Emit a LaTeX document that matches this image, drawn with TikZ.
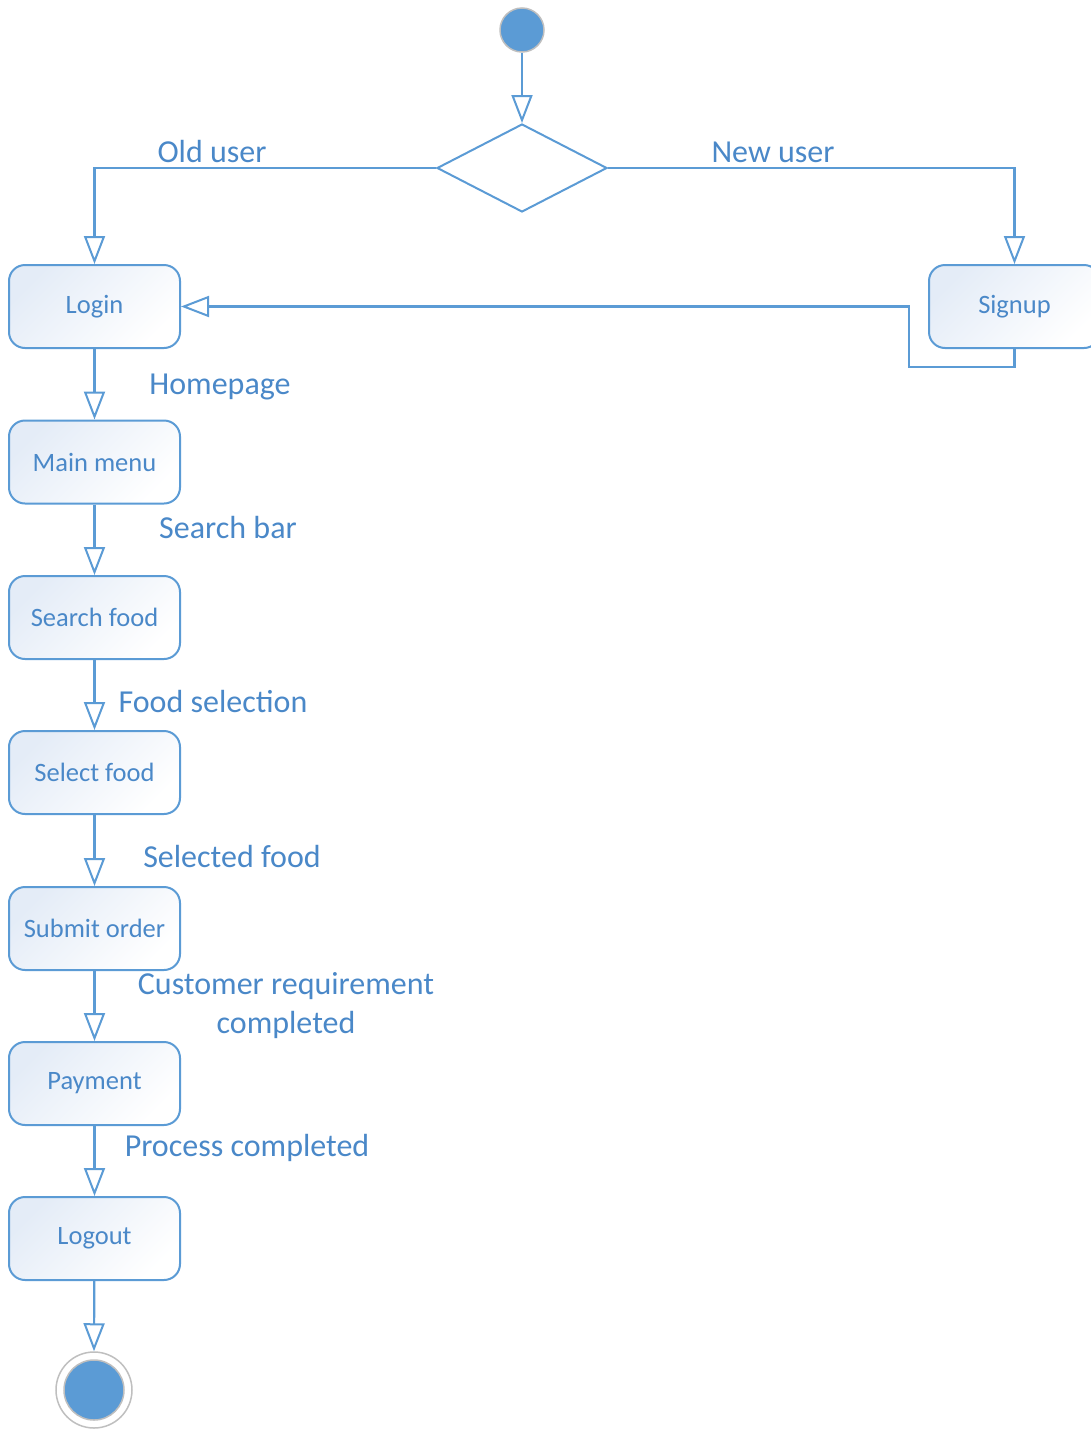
\documentclass[tikz,border=0pt]{standalone}
\usepackage{fontspec}
\setmainfont{Carlito}
\usetikzlibrary{arrows.meta,shapes.geometric,calc}
\definecolor{uline}{HTML}{5B9BD5}
\definecolor{utext}{HTML}{4A88C8}
\definecolor{ufill}{HTML}{E4ECF7}
\definecolor{uring}{HTML}{BFBFBF}
\begin{document}
\begin{tikzpicture}[x=1pt,y=-1pt,
  every node/.style={inner sep=0pt},
  flow/.style={draw=uline, line width=2.2pt,
    -{Triangle[length=28pt,width=21pt,fill=white,line width=2pt]}},
  activity/.style={draw=uline, line width=2pt, rounded corners=16pt,
    minimum width=171pt, minimum height=83pt,
    top color=ufill, bottom color=white, shading angle=45,
    text=utext, font=\fontsize{26.5}{30}\selectfont},
  elabel/.style={text=utext, font=\fontsize{32}{39}\selectfont, align=center},
  decision/.style={diamond, draw=uline, line width=2pt, fill=white,
    minimum width=170pt, minimum height=88pt, aspect=1.93}
]
\useasboundingbox (0,0) rectangle (1091,1430);

% start node
\node[circle, fill=uline, draw=uring, line width=1.5pt, minimum size=44pt] (start) at (522,30) {};
\node[decision] (dec) at (522,168) {};

% activities
\node[activity] (login)  at (94.5,306.5) {Login};
\node[activity] (signup) at (1014.5,306.5) {Signup};
\node[activity] (menu)   at (94.5,462) {Main menu};
\node[activity] (search) at (94.5,617.5) {Search food};
\node[activity] (select) at (94.5,772.5) {Select food};
\node[activity] (submit) at (94.5,928.5) {Submit order};
\node[activity] (pay)    at (94.5,1083.5) {Payment};
\node[activity] (logout) at (94.5,1238.5) {Logout};

% final node
\node[circle, draw=uring, line width=1.5pt, fill=white, minimum size=76pt] (endring) at (94,1390) {};
\node[circle, fill=uline, draw=uring, line width=1.5pt, minimum size=60pt] (end) at (94,1390) {};

% connectors
\draw[flow] (start) -- (dec.north);
\draw[flow] (dec.west) -| (login.north);
\draw[flow] (dec.east) -| (signup.north);
\coordinate (sa) at (1014.5,367);
\coordinate (sb) at (909,367);
\draw[flow] (signup.south) -- (sa) -- (sb) |- (login.east);
\draw[flow] (login) -- (menu);
\draw[flow] (menu) -- (search);
\draw[flow] (search) -- (select);
\draw[flow] (select) -- (submit);
\draw[flow] (submit) -- (pay);
\draw[flow] (pay) -- (logout);
\draw[flow] (logout) -- (endring.north);

% labels
\node[elabel] (l1) at (212,152) {Old user};
\node[elabel] (l2) at (773,152) {New user};
\node[elabel] (l3) at (220,387) {Homepage};
\node[elabel] (l4) at (228,528) {Search bar};
\node[elabel] (l5) at (213,701) {Food selection};
\node[elabel] (l6) at (232,856) {Selected food};
\node[elabel] (l7) at (286,1006) {Customer requirement\\completed};
\node[elabel] (l8) at (247,1148) {Process completed};
\end{tikzpicture}
\end{document}
